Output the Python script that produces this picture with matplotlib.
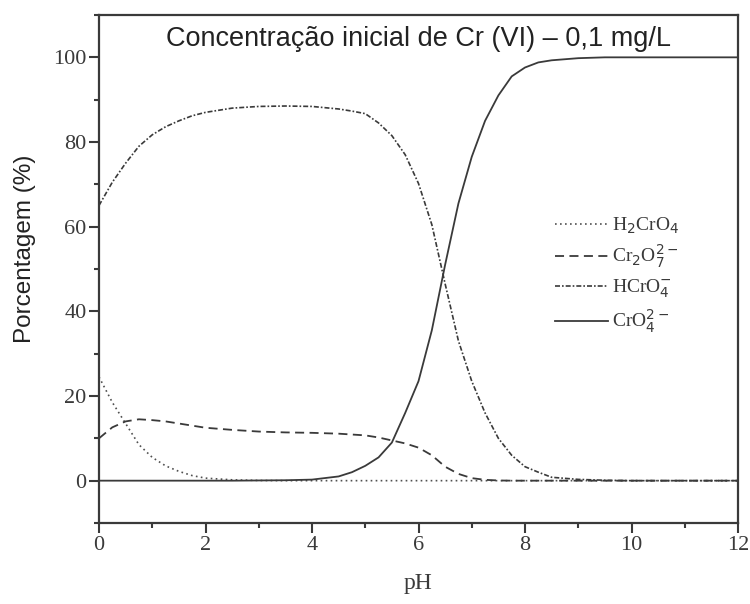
import matplotlib
matplotlib.use("Agg")
import matplotlib.pyplot as plt
from matplotlib.ticker import MultipleLocator

# pH grid and species percentages
ph = [0, 0.25, 0.5, 0.75, 1, 1.25, 1.5, 1.75, 2, 2.5, 3, 3.5, 4, 4.5, 4.75, 5, 5.25,
      5.5, 5.75, 6, 6.25, 6.5, 6.75, 7, 7.25, 7.5, 7.75, 8, 8.25, 8.5, 9, 9.5,
      10, 11, 12]

h2cro4 = [24.5, 18.5, 13.5, 8.5, 5.5, 3.5, 2.2, 1.2, 0.6, 0.2, 0.05, 0, 0, 0, 0, 0, 0,
          0, 0, 0, 0, 0, 0, 0, 0, 0, 0, 0, 0, 0, 0, 0,
          0, 0, 0]

cr2o7 = [10, 12.6, 14.0, 14.5, 14.3, 14.0, 13.5, 13.0, 12.5, 12.0, 11.6, 11.4, 11.3, 11.1, 10.9, 10.7, 10.2,
         9.5, 8.8, 7.8, 6.0, 3.3, 1.6, 0.6, 0.2, 0.05, 0, 0, 0, 0, 0, 0,
         0, 0, 0]

hcro4 = [65, 70.5, 75, 79, 81.7, 83.6, 85.0, 86.2, 87.0, 88, 88.4, 88.5, 88.4, 87.8, 87.3, 86.7, 84.5,
         81.5, 77, 70.2, 60.5, 46.5, 33, 23.5, 16, 10, 6, 3.3, 2.0, 0.8, 0.3, 0.1,
         0, 0, 0]

cro4 = [0, 0, 0, 0, 0, 0, 0, 0, 0, 0, 0.05, 0.1, 0.25, 1.0, 2.0, 3.5, 5.5,
        9, 16, 23.5, 35.5, 51, 65.5, 76.5, 85, 91, 95.5, 97.6, 98.8, 99.3, 99.8, 100,
        100, 100, 100]

labels = [r"H$_2$CrO$_4$", r"Cr$_2$O$_7^{2-}$", r"HCrO$_4^{-}$", r"CrO$_4^{2-}$"]

serif = ["Liberation Serif", "DejaVu Serif"]
sans = ["Liberation Sans", "DejaVu Sans"]
col = "#3a3a3a"

fig = plt.figure(figsize=(7.5, 6.04), dpi=100)
ax = fig.add_axes([99 / 750, 81 / 604, 639 / 750, 508 / 604])

ax.plot(ph, h2cro4, color="#505050", lw=1.2, linestyle=(0, (1, 2)), label=labels[0])
ax.plot(ph, cr2o7, color=col, lw=1.3, linestyle=(0, (5, 3)), label=labels[1])
ax.plot(ph, hcro4, color=col, lw=1.2, linestyle=(0, (3, 1.2, 1, 1.2)), label=labels[2])
ax.plot(ph, cro4, color=col, lw=1.3, linestyle="-", label=labels[3])

ax.set_xlim(0, 12)
ax.set_ylim(-10, 110)
ax.xaxis.set_major_locator(MultipleLocator(2))
ax.xaxis.set_minor_locator(MultipleLocator(1))
ax.yaxis.set_major_locator(MultipleLocator(20))
ax.yaxis.set_minor_locator(MultipleLocator(10))
ax.tick_params(which="both", direction="out", color=col, width=1.5)
ax.tick_params(which="major", length=7.5, pad=1.5, labelsize=16, labelcolor=col)
ax.tick_params(which="minor", length=3.5)
for lab in ax.get_xticklabels() + ax.get_yticklabels():
    lab.set_family(serif)
for sp in ax.spines.values():
    sp.set_color(col)
    sp.set_linewidth(1.6)

ax.set_xlabel("pH", family=serif, fontsize=17, color=col, labelpad=13)
ax.set_ylabel("Porcentagem (%)", family=sans, fontsize=17.5, color="#222222")
ax.yaxis.set_label_coords(-0.098, 0.54)

ax.text(0.5, 0.953, "Concentração inicial de Cr (VI) – 0,1 mg/L", transform=ax.transAxes,
        ha="center", va="center", family=sans, fontsize=19.5, color="#222222")

leg = ax.legend(loc="upper left", bbox_to_anchor=(0.687, 0.64), frameon=False,
                prop={"family": serif, "size": 14}, handlelength=2.7,
                handletextpad=0.2, labelspacing=0.38, labelcolor=col)

fig.savefig("out.png", dpi=100)
